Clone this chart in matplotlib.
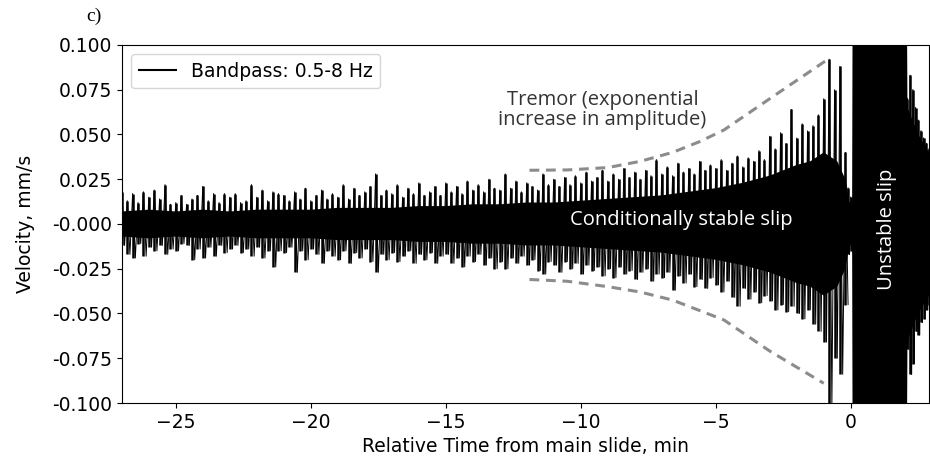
import numpy as np
import matplotlib.pyplot as plt
from matplotlib.lines import Line2D

# peak velocities (mm/s), one upper and one lower swing every 0.2 min from -27.0 to -0.2 min
peak_t = np.round(np.arange(-27.0, -0.1, 0.2), 1)
peak_up = [
    0.018, 0.013, 0.017, 0.012, 0.018, 0.015, 0.019, 0.014, 0.022, 0.011,
    0.012, 0.016, 0.011, 0.014, 0.016, 0.021, 0.013, 0.017, 0.012, 0.017,
    0.015, 0.017, 0.012, 0.013, 0.022, 0.015, 0.019, 0.013, 0.018, 0.017,
    0.016, 0.013, 0.018, 0.014, 0.020, 0.013, 0.016, 0.019, 0.014, 0.017,
    0.015, 0.022, 0.014, 0.020, 0.016, 0.018, 0.021, 0.028, 0.016, 0.019,
    0.017, 0.022, 0.015, 0.020, 0.017, 0.023, 0.016, 0.018, 0.021, 0.016,
    0.023, 0.018, 0.021, 0.017, 0.024, 0.019, 0.022, 0.018, 0.025, 0.020,
    0.019, 0.028, 0.020, 0.024, 0.018, 0.023, 0.021, 0.019, 0.028, 0.022,
    0.025, 0.021, 0.026, 0.022, 0.027, 0.023, 0.029, 0.024, 0.026, 0.030,
    0.024, 0.028, 0.025, 0.031, 0.026, 0.029, 0.025, 0.030, 0.027, 0.036,
    0.028, 0.032, 0.027, 0.034, 0.029, 0.031, 0.028, 0.035, 0.030, 0.033,
    0.031, 0.036, 0.030, 0.034, 0.038, 0.032, 0.037, 0.035, 0.041, 0.036,
    0.049, 0.042, 0.051, 0.045, 0.064, 0.048, 0.056, 0.052, 0.055, 0.061,
    0.070, 0.092, 0.075, 0.088, 0.040,
]
peak_lo = [
    -0.012, -0.017, -0.019, -0.011, -0.018, -0.013, -0.015, -0.012, -0.017, -0.014,
    -0.015, -0.011, -0.012, -0.020, -0.014, -0.019, -0.013, -0.018, -0.012, -0.016,
    -0.014, -0.012, -0.016, -0.014, -0.018, -0.013, -0.019, -0.015, -0.024, -0.015,
    -0.016, -0.013, -0.027, -0.015, -0.020, -0.014, -0.017, -0.022, -0.015, -0.018,
    -0.020, -0.015, -0.022, -0.016, -0.019, -0.014, -0.021, -0.027, -0.017, -0.020,
    -0.016, -0.021, -0.018, -0.015, -0.022, -0.017, -0.020, -0.016, -0.022, -0.018,
    -0.017, -0.022, -0.019, -0.024, -0.018, -0.021, -0.017, -0.023, -0.019, -0.025,
    -0.021, -0.025, -0.019, -0.022, -0.018, -0.023, -0.020, -0.026, -0.028, -0.021,
    -0.023, -0.027, -0.021, -0.025, -0.022, -0.028, -0.023, -0.026, -0.024, -0.029,
    -0.025, -0.030, -0.024, -0.028, -0.026, -0.031, -0.027, -0.025, -0.032, -0.028,
    -0.030, -0.027, -0.037, -0.029, -0.033, -0.028, -0.035, -0.031, -0.036, -0.030,
    -0.034, -0.038, -0.032, -0.041, -0.046, -0.036, -0.042, -0.038, -0.044, -0.040,
    -0.043, -0.048, -0.045, -0.049, -0.046, -0.050, -0.053, -0.048, -0.056, -0.060,
    -0.066, -0.102, -0.075, -0.084, -0.045,
]

# swings just before and after the main slide
tail_t = [-0.1, 0.0, 2.1, 2.2, 2.3, 2.4, 2.5, 2.6, 2.7, 2.8, 2.9]
tail_up = [0.020, 0.015, 0.070, 0.083, 0.075, 0.065, 0.058, 0.052, 0.048, 0.045, 0.042]
tail_lo = [-0.017, -0.015, -0.070, -0.084, -0.078, -0.060, -0.062, -0.055, -0.053, -0.048, -0.045]

# half width of the solid dense part of the trace (saturated during the slide)
core_t = [-27, -26, -25, -24, -23, -22, -21, -20, -19, -18, -17, -16, -15, -14, -13, -12, -11, -10,
          -9, -8, -7, -6, -5, -4, -3, -2, -1.5, -1, -0.5, -0.2, -0.05, 0.05, 0.08, 2.05, 2.1,
          2.5, 2.9]
core_amp = [0.007, 0.008, 0.007, 0.008, 0.007, 0.008, 0.008, 0.008, 0.009, 0.009, 0.009, 0.010,
            0.010, 0.011, 0.011, 0.012, 0.012, 0.013, 0.014, 0.015, 0.016, 0.018, 0.020, 0.023,
            0.027, 0.033, 0.035, 0.040, 0.035, 0.025, 0.012, 0.012, 0.2, 0.2, 0.065, 0.05, 0.04]

# hand drawn tremor envelope
env_up_t = [-11.9, -10.5, -9.0, -7.8, -6.6, -5.6, -4.7, -3.0, -0.75]
env_up = [0.030, 0.0302, 0.0315, 0.035, 0.040, 0.046, 0.0525, 0.070, 0.093]
env_lo_t = [-11.9, -10.5, -9.0, -7.8, -6.6, -4.7, -3.0, -1.0]
env_lo = [-0.031, -0.032, -0.035, -0.038, -0.0425, -0.0536, -0.071, -0.089]

note_font = ["Open Sans", "Noto Sans", "Lato", "DejaVu Sans"]


def zigzag(t, up, lo, half):
    t = np.asarray(t, dtype=float)
    xs = np.empty(2 * len(t))
    ys = np.empty(2 * len(t))
    xs[0::2] = t
    xs[1::2] = t + half
    ys[0::2] = up
    ys[1::2] = lo
    return xs, ys


fig = plt.figure(figsize=(9.3, 4.59), dpi=100)
ax = fig.add_axes([0.131, 0.122, 0.868, 0.780])

ax.fill_between(core_t, -np.array(core_amp), core_amp, color="black", lw=0)
# each burst: a vertical stroke from its lowest to its highest swing
ax.vlines(peak_t, peak_lo, peak_up, color="black", lw=1.8)
ax.vlines(tail_t, tail_lo, tail_up, color="black", lw=1.8)
zx, zy = zigzag(peak_t, peak_up, peak_lo, 0.1)
ax.plot(zx, zy, color="black", lw=0.7)
tx, ty = zigzag(tail_t, tail_up, tail_lo, 0.05)
ax.plot(tx, ty, color="black", lw=0.9)

ax.plot(env_up_t, env_up, color="#8c8c8c", lw=2.2, dashes=(3.2, 2.2))
ax.plot(env_lo_t, env_lo, color="#8c8c8c", lw=2.2, dashes=(3.2, 2.2))

ax.text(-9.2, 0.0637, "Tremor (exponential\nincrease in amplitude)", ha="center", va="center",
        fontsize=14.5, family=note_font, color="#333333", linespacing=1.0)
ax.text(-6.26, 0.002, "Conditionally stable slip", ha="center", va="center",
        fontsize=14.5, family=note_font, color="white")
ax.text(1.35, -0.003, "Unstable slip", ha="center", va="center", rotation=90,
        fontsize=14.5, family=note_font, color="white")

ax.set_xlim(-27.0, 2.9)
ax.set_ylim(-0.1, 0.1)
ax.set_xticks([-25, -20, -15, -10, -5, 0])
ax.set_yticks(np.round(np.arange(-0.1, 0.1001, 0.025), 3))
ax.yaxis.set_major_formatter(plt.FormatStrFormatter("%.3f"))
ax.tick_params(labelsize=13.5)
ax.set_xlabel("Relative Time from main slide, min", fontsize=13.5)
ax.set_ylabel("Velocity, mm/s", fontsize=13.5, labelpad=12)
ax.legend([Line2D([], [], color="black", lw=1.5)], ["Bandpass: 0.5-8 Hz"],
          loc="upper left", fontsize=13.5)

fig.text(0.101, 0.965, "c)", ha="center", va="center", fontsize=14, family="Liberation Serif")

fig.savefig("out.png", dpi=100)
